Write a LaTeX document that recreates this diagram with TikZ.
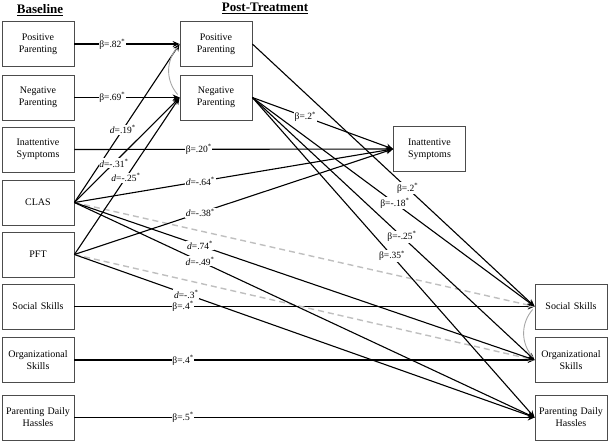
\documentclass[tikz,border=0pt]{standalone}
\usepackage{fontspec}
\setmainfont{Liberation Serif}
\usetikzlibrary{arrows.meta}
\begin{document}
\begin{tikzpicture}[x=1pt,y=-1pt,
        var/.style={draw=black!70,line width=.8pt,minimum width=72pt,minimum height=45pt,
            text width=66pt,align=center,inner sep=0pt,font=\fontsize{10}{12}\selectfont},
        eff/.style={line width=1.1pt,-{Stealth[length=7pt,width=6pt]}},
        ns/.style={gray!50,line width=1.4pt,dash pattern=on 6pt off 4pt,-{Stealth[length=7pt,width=6pt]}},
        corr/.style={gray!70,line width=.9pt},
        lbl/.style={fill=white,inner sep=.8pt,font=\fontsize{9.5}{11}\selectfont},
        hdr/.style={font=\fontsize{13}{15}\selectfont\bfseries}]
        \useasboundingbox (0,0) rectangle (609,445);
        \node[hdr] (hBase) at (40,10) {\underline{Baseline}};
        \node[hdr] (hPost) at (265,8) {\underline{Post-Treatment}};
        % baseline
        \node[var] (bPos) at (38,44) {Positive\\Parenting};
        \node[var] (bNeg) at (38,97.5) {Negative\\Parenting};
        \node[var] (bInatt) at (38,149.5) {Inattentive\\Symptoms};
        \node[var] (bClas) at (38,202.5) {CLAS};
        \node[var] (bPft) at (38,254.5) {PFT};
        \node[var] (bSoc) at (38,306.5) {Social Skills};
        \node[var] (bOrg) at (38,360) {Organizational\\Skills};
        \node[var] (bHass) at (38,417.5) {Parenting Daily\\Hassles};
        % post-treatment
        \node[var] (pPos) at (216,44) {Positive\\Parenting};
        \node[var] (pNeg) at (216,97.5) {Negative\\Parenting};
        \node[var] (pInatt) at (429.5,149) {Inattentive\\Symptoms};
        \node[var] (pSoc) at (571,306.5) {Social Skills};
        \node[var] (pOrg) at (571,360) {Organizational\\Skills};
        \node[var] (pHass) at (571,417.5) {Parenting Daily\\Hassles};
        % stability paths
        \draw[eff] (bPos.east) -- node[lbl,pos=.36] {β=.82\textsuperscript{*}} (pPos.west);
        \draw[eff] (bNeg.east) -- node[lbl,pos=.36] {β=.69\textsuperscript{*}} (pNeg.west);
        \draw[eff] (bInatt.east) -- node[lbl,pos=.39] {β=.20\textsuperscript{*}} (pInatt.west);
        \draw[eff] (bSoc.east) -- node[lbl,pos=.236] {β=.4\textsuperscript{*}} (pSoc.west);
        \draw[eff] (bOrg.east) -- node[lbl,pos=.236] {β=.4\textsuperscript{*}} (pOrg.west);
        \draw[eff] (bHass.east) -- node[lbl,pos=.236] {β=.5\textsuperscript{*}} (pHass.west);
        % treatment effects
        \draw[ns] (bClas.east) -- (pSoc.west);
        \draw[ns] (bPft.east) -- (pOrg.west);
        \draw[eff] (bClas.east) -- node[lbl,pos=.46] {\textit{d}=.19\textsuperscript{*}} (pPos.west);
        \draw[eff] (bClas.east) -- node[lbl,pos=.375] {\textit{d}=-.31\textsuperscript{*}} (pNeg.west);
        \draw[eff] (bPft.east) -- node[lbl,pos=.49] {\textit{d}=-.25\textsuperscript{*}} (pNeg.west);
        \draw[eff] (bClas.east) -- node[lbl,pos=.395] {\textit{d}=-.64\textsuperscript{*}} (pInatt.west);
        \draw[eff] (bPft.east) -- node[lbl,pos=.395] {\textit{d}=-.38\textsuperscript{*}} (pInatt.west);
        \draw[eff] (bClas.east) -- node[lbl,pos=.273] {\textit{d}=.74\textsuperscript{*}} (pOrg.west);
        \draw[eff] (bClas.east) -- node[lbl,pos=.273] {\textit{d}=-.49\textsuperscript{*}} (pHass.west);
        \draw[eff] (bPft.east) -- node[lbl,pos=.243] {\textit{d}=-.3\textsuperscript{*}} (pHass.west);
        % parenting to outcomes
        \draw[eff] (pPos.east) -- node[lbl,pos=.55] {β=.2\textsuperscript{*}} (pSoc.west);
        \draw[eff] (pNeg.east) -- node[lbl,pos=.376] {β=.2\textsuperscript{*}} (pInatt.west);
        \draw[eff] (pNeg.east) -- node[lbl,pos=.505] {β=-.18\textsuperscript{*}} (pSoc.west);
        \draw[eff] (pNeg.east) -- node[lbl,pos=.53] {β=-.25\textsuperscript{*}} (pOrg.west);
        \draw[eff] (pNeg.east) -- node[lbl,pos=.495] {β=.35\textsuperscript{*}} (pHass.west);
        % correlations
        \draw[corr] ([xshift=-2pt,yshift=-3pt]pPos.west) .. controls +(-12,14) and +(-12,-14) .. ([xshift=-2pt,yshift=3pt]pNeg.west);
        \draw[corr] ([xshift=-2pt,yshift=-3pt]pSoc.west) .. controls +(-12,14) and +(-12,-14) .. ([xshift=-2pt,yshift=3pt]pOrg.west);
    \end{tikzpicture}
\end{document}
